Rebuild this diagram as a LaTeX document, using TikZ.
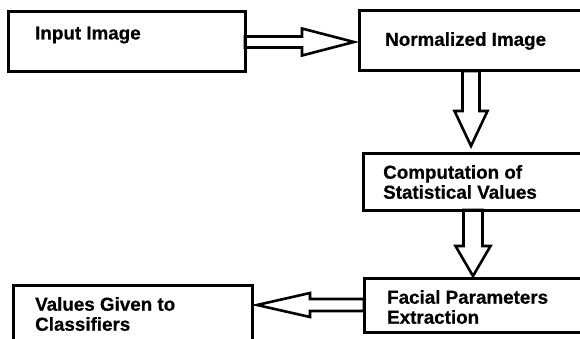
\documentclass[tikz,border=0pt]{standalone}
\usepackage{fontspec}
\setmainfont[BoldFeatures={FakeBold=0.6}]{Liberation Sans}
\usetikzlibrary{calc}
\tikzset{
  box/.style={draw=black, line width=3pt, rectangle, inner sep=0pt, outer sep=0pt, anchor=north west},
  txt/.style={font=\bfseries\fontsize{18.8}{20}\selectfont, inner sep=0pt, anchor=west, align=left},
  barrowline/.style={draw=black, line width=2.6pt, line join=miter},
}
% #1 start, #2 tip, #3 shaft half width, #4 head half width, #5 head length
\newcommand\blockarrow[5]{%
  \path ($(#2)!#5!(#1)$) coordinate (bh);
  \draw[barrowline] ($(#1)!#3!90:(#2)$) -- ($(bh)!#3!-90:(#1)$) -- ($(bh)!#4!-90:(#1)$)
    -- (#2) -- ($(bh)!#4!90:(#1)$) -- ($(bh)!#3!90:(#1)$) -- ($(#1)!#3!-90:(#2)$) -- cycle;
}
\begin{document}
\begin{tikzpicture}[x=1pt,y=-1pt]
\useasboundingbox (0,0) rectangle (580,339);
% boxes
\node[box, minimum width=237pt, minimum height=60pt] (in)   at (8,12)   {};
\node[box, minimum width=224pt, minimum height=60pt] (norm) at (359,11) {};
\node[box, minimum width=220pt, minimum height=56pt] (comp) at (363,154) {};
\node[box, minimum width=219pt, minimum height=54pt] (fac)  at (364,278) {};
\node[box, minimum width=239pt, minimum height=65pt] (res)  at (13,285) {};
% texts
\node[txt] (t1) at (35,35)  {Input Image};
\node[txt] (t2) at (385,41) {Normalized Image};
\node[txt] (t3) at (383,182) {Computation of\\Statistical Values};
\node[txt] (t4) at (387,307) {Facial Parameters\\Extraction};
\node[txt] (t5) at (35,314) {Values Given to\\Classifiers};
% arrow tips
\coordinate (a1e) at ($(norm.west |- in.east)+(-5,0)$);
\coordinate (a2e) at ($(norm.south |- comp.north)+(0,-8)$);
\coordinate (a3e) at ($(comp.south |- fac.north)+(0,-2)$);
\coordinate (a4e) at ($(res.east |- fac.west)+(5,0)$);
% block arrows
\blockarrow{in.east}{a1e}{5.5pt}{13.5pt}{52pt}
\blockarrow{norm.south}{a2e}{8.5pt}{16.5pt}{35pt}
\blockarrow{comp.south}{a3e}{9.5pt}{17.5pt}{30pt}
\blockarrow{fac.west}{a4e}{6pt}{12pt}{53pt}
\end{tikzpicture}
\end{document}
